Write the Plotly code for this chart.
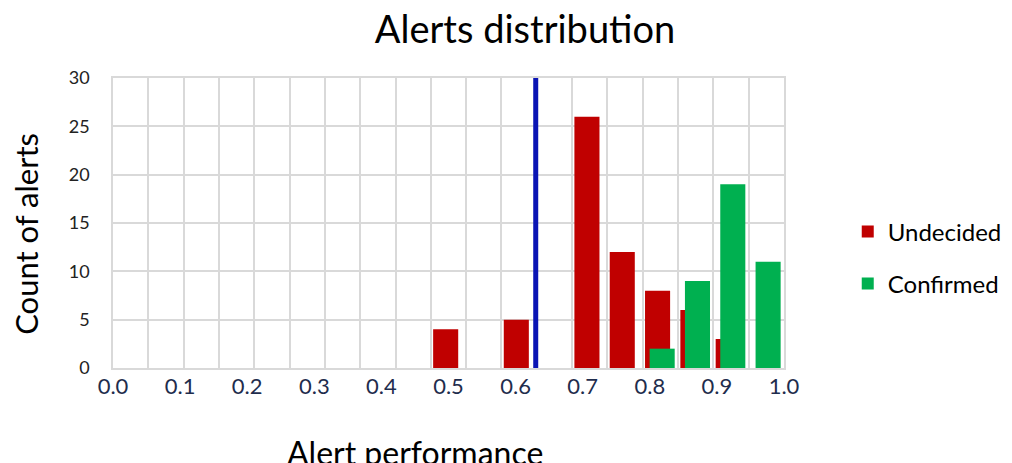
import plotly.graph_objects as go

# Histogram bins (19 equal bins across 0..1), index of each bin
bin_index = [0, 1, 2, 3, 4, 5, 6, 7, 8, 9, 10, 11, 12, 13, 14, 15, 16, 17, 18]
undecided = [0, 0, 0, 0, 0, 0, 0, 0, 0, 4, 0, 5, 0, 26, 12, 8, 6, 3, 0]
confirmed = [0, 0, 0, 0, 0, 0, 0, 0, 0, 0, 0, 0, 0, 0, 0, 2, 9, 19, 11]
threshold = 0.63
x_ticks = [0.0, 0.1, 0.2, 0.3, 0.4, 0.5, 0.6, 0.7, 0.8, 0.9, 1.0]
y_ticks = [0, 5, 10, 15, 20, 25, 30]

FONT = "Lato"
GRID = "#D9D9D9"

fig = go.Figure()
fig.add_trace(go.Bar(
    x=bin_index, y=undecided, name="Undecided",
    marker=dict(color="#C00000", line=dict(width=0)),
    width=0.71, offset=0.065, xaxis="x2", yaxis="y",
    legendgroup="u",
))
fig.add_trace(go.Bar(
    x=bin_index, y=confirmed, name="Confirmed",
    marker=dict(color="#00B050", line=dict(width=0)),
    width=0.71, offset=0.195, xaxis="x2", yaxis="y",
    legendgroup="c",
))
fig.add_trace(go.Scatter(
    x=[threshold, threshold], y=[0, 30], mode="lines",
    line=dict(color="#0A14B4", width=5), showlegend=False,
    xaxis="x", yaxis="y", hoverinfo="skip",
))

fig.update_layout(
    width=1004, height=455,
    margin=dict(l=105, r=228, t=70, b=95, autoexpand=False),
    paper_bgcolor="white", plot_bgcolor="white",
    barmode="overlay",
    font=dict(family=FONT, color="#000000"),
    title=dict(text="Alerts distribution", x=0.515, xanchor="center",
               y=0.952, yanchor="middle", automargin=False,
               font=dict(family=FONT, size=38, color="#000000")),
    xaxis=dict(
        range=[0, 1], tickvals=x_ticks, ticktext=[f"{v:.1f}" for v in x_ticks],
        showgrid=False, zeroline=False, showline=False, ticks="",
        automargin=False, ticklabelstandoff=3,
        tickfont=dict(family=FONT, size=22, color="#1F2D4D"),
    ),
    xaxis2=dict(
        range=[0, 19], dtick=1, tick0=0, overlaying="x", anchor="y",
        showticklabels=False, ticks="", showgrid=True, gridcolor=GRID,
        gridwidth=1.5, zeroline=False, showline=True, mirror=True,
        linecolor=GRID, linewidth=1.5, automargin=False,
    ),
    yaxis=dict(
        range=[0, 30], tickvals=y_ticks, showgrid=True, gridcolor=GRID,
        gridwidth=1.5, zeroline=False, showline=True, mirror=True,
        linecolor=GRID, linewidth=1.5, ticks="", automargin=False,
        ticklabelstandoff=18,
        tickfont=dict(family=FONT, size=18, color="#222222"),
    ),
    legend=dict(
        x=1.095, xanchor="left", y=0.38, yanchor="middle",
        font=dict(family=FONT, size=24, color="#000000"),
        tracegroupgap=18, bgcolor="rgba(0,0,0,0)",
    ),
    annotations=[
        dict(text="Alert performance", xref="paper", yref="paper",
             x=0.45, y=-0.29, xanchor="center", yanchor="middle",
             showarrow=False, font=dict(family=FONT, size=32, color="#000000")),
        dict(text="Count of alerts", xref="paper", yref="paper",
             x=-0.13, y=0.462, xanchor="center", yanchor="middle",
             textangle=-90, showarrow=False,
             font=dict(family=FONT, size=31, color="#000000")),
    ],
)

fig.write_html("out.html")
